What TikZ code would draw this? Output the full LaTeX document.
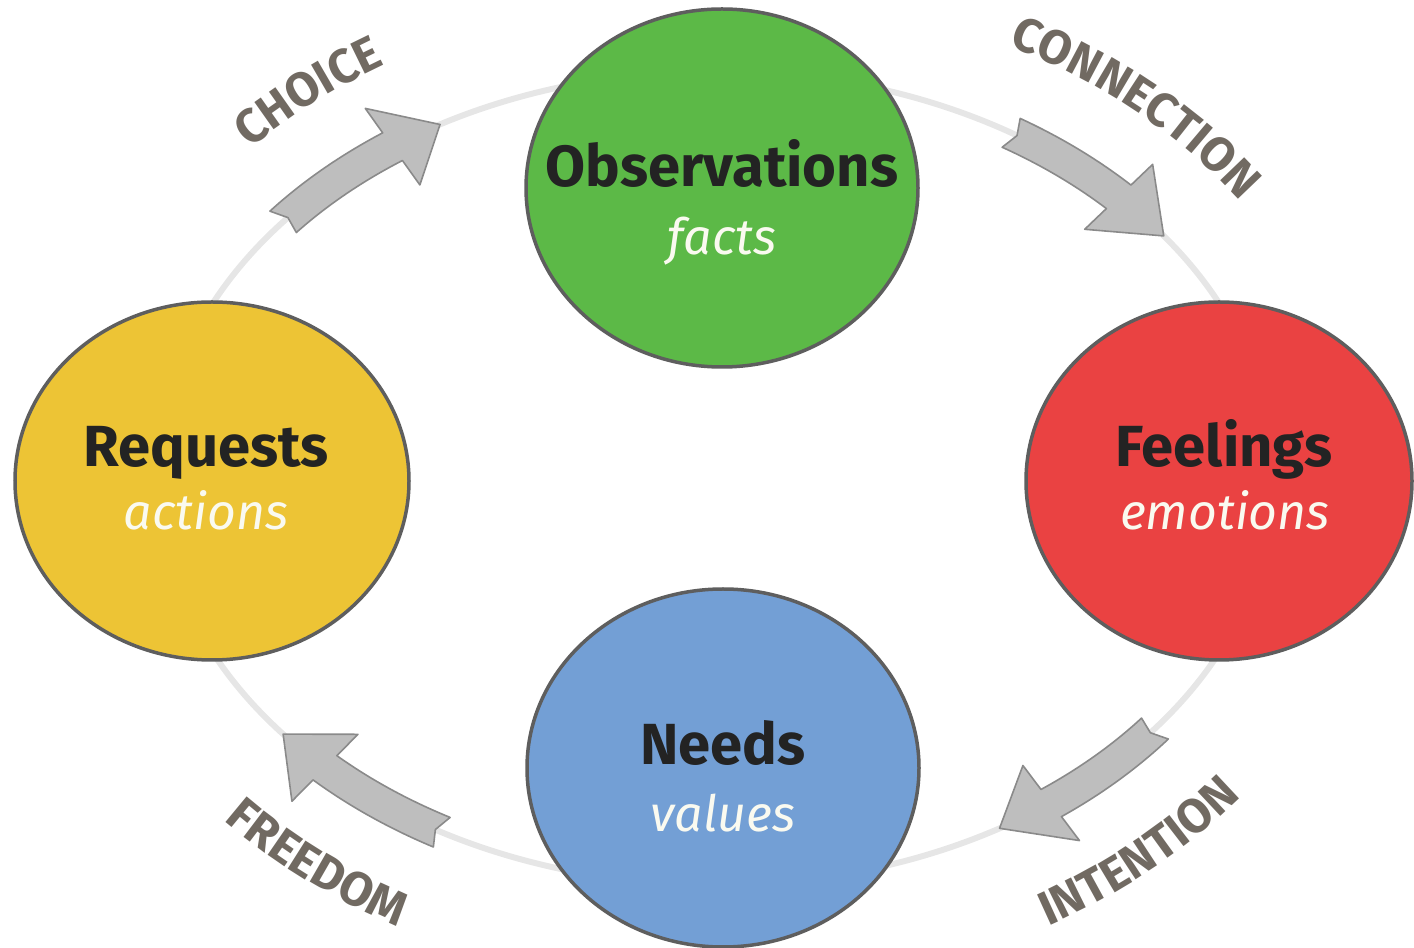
\documentclass[tikz,border=0pt]{standalone}
\usepackage{fontspec}
\setmainfont{Fira Sans}
\usetikzlibrary{shapes.geometric,decorations.text}
\definecolor{ringc}{HTML}{E6E6E6}
\definecolor{blkfill}{HTML}{BEBEBE}
\definecolor{blkdraw}{HTML}{8A8A8A}
\definecolor{bordc}{HTML}{5E5E5E}
\definecolor{obsc}{HTML}{5CB947}
\definecolor{feelc}{HTML}{EA4242}
\definecolor{needc}{HTML}{739FD5}
\definecolor{reqc}{HTML}{EDC435}
\definecolor{titlec}{HTML}{232323}
\definecolor{subc}{HTML}{FAFAF0}
\definecolor{labc}{HTML}{716A62}
\def\cx{716}\def\cy{470}\def\rx{557}\def\ry{407}
\def\sw{17}\def\hw{47}
\newcommand\blkarrow[3]{%
  \pgfmathsetmacro\ta{#1}\pgfmathsetmacro\tb{#2}\pgfmathsetmacro\tc{#3}%
  \pgfmathsetmacro\tn{\ta+0.05*(\tb-\ta)}%
  \draw[blk] ({\cx+(\rx+\sw)*cos(\ta)},{\cy+(\ry+\sw)*sin(\ta)})
    arc[x radius=\rx+\sw, y radius=\ry+\sw, start angle=\ta, end angle=\tb]
    -- ({\cx+(\rx+\hw)*cos(\tb)},{\cy+(\ry+\hw)*sin(\tb)})
    -- ({\cx+\rx*cos(\tc)},{\cy+\ry*sin(\tc)})
    -- ({\cx+(\rx-\hw)*cos(\tb)},{\cy+(\ry-\hw)*sin(\tb)})
    -- ({\cx+(\rx-\sw)*cos(\tb)},{\cy+(\ry-\sw)*sin(\tb)})
    arc[x radius=\rx-\sw, y radius=\ry-\sw, start angle=\tb, end angle=\ta]
    -- ({\cx+\rx*cos(\tn)},{\cy+\ry*sin(\tn)}) -- cycle;}
\newfontfamily\labfont{Fira Sans}
\newfontfamily\labfontsp{Fira Sans}[LetterSpace=8]
\newfontfamily\labfontspp{Fira Sans}[LetterSpace=12]
\newcommand\arclabel[5]{% font, text, d, start, end
  \path[decorate, decoration={text along path, text align=center,
      text color=labc, text={|\fontsize{48}{48}#1\bfseries|#2}}]
    ({\cx+(\rx+#3)*cos(#4)},{\cy+(\ry+#3)*sin(#4)})
    arc[x radius=\rx+#3, y radius=\ry+#3, start angle=#4, end angle=#5];}
\tikzset{
  blk/.style={fill=blkfill, draw=blkdraw, line width=1.6pt, line join=round},
  bubble/.style={ellipse, draw=bordc, line width=3.5pt, inner sep=0pt,
    minimum width=392pt, minimum height=358pt},
  ttl/.style={anchor=base, text=titlec, inner sep=0pt,
    font=\fontsize{58}{58}\selectfont\bfseries},
  sub/.style={anchor=base, text=subc, inner sep=0pt,
    font=\fontsize{50}{50}\selectfont\itshape}
}
\begin{document}
\begin{tikzpicture}[x=1pt,y=1pt]
\useasboundingbox (0,0) rectangle (1414,948);
% ring
\draw[ringc, line width=6pt] (\cx,\cy) ellipse[x radius=\rx, y radius=\ry];
% arrows
\blkarrow{141}{125.5}{119.7}
\blkarrow{58}{43.7}{36.5}
\blkarrow{-38}{-53}{-59.4}
\blkarrow{240.5}{225.4}{219}
% labels
\arclabel{\labfont}{CHOICE}{78}{150}{110}
\arclabel{\labfont}{CONNECTION}{80}{75}{20}
\arclabel{\labfontspp}{INTENTION}{110}{-78.5}{-16.5}
\arclabel{\labfontsp}{FREEDOM}{105}{199}{261}
% bubbles
\node[bubble, fill=obsc] (obs) at (722,760) {};
\node[bubble, fill=reqc, minimum width=394pt] (req) at (212,467) {};
\node[bubble, fill=feelc, minimum width=386pt] (feel) at (1219,467) {};
\node[bubble, fill=needc] (need) at (723,180) {};
\node[ttl] (obsT) at ([yshift=1pt]obs.center) {Observations};
\node[sub] (obsS) at ([yshift=-67pt]obs.center) {facts};
\node[ttl] (reqT) at ([xshift=-6pt,yshift=14pt]req.center) {Requests};
\node[sub] (reqS) at ([xshift=-6pt,yshift=-49pt]req.center) {actions};
\node[ttl] (feelT) at ([xshift=5pt,yshift=14pt]feel.center) {Feelings};
\node[sub] (feelS) at ([xshift=6pt,yshift=-49pt]feel.center) {emotions};
\node[ttl] (needT) at ([yshift=3pt]need.center) {Needs};
\node[sub] (needS) at ([yshift=-64pt]need.center) {values};
\end{tikzpicture}
\end{document}
